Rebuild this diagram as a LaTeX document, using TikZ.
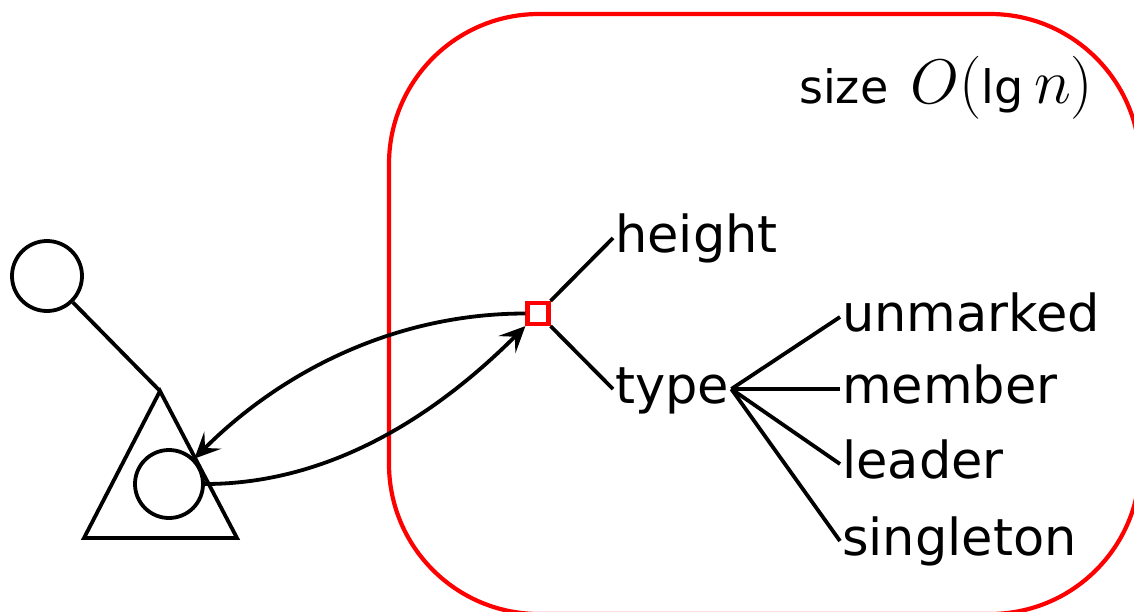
\RequirePackage{fix-cm}
\documentclass[tikz,border=0pt]{standalone}
\usepackage[no-math]{fontspec}
\setmainfont{DejaVu Sans}
\usetikzlibrary{arrows.meta}
\tikzset{
  blk/.style={line width=3.8pt, black},
  ring/.style={circle, draw, blk, inner sep=0pt},
  lbl/.style={font=\fontsize{51}{61}\selectfont, inner xsep=2pt, inner ysep=0pt,
              text height=28pt, text depth=0pt, anchor=west},
  arr/.style={blk, -{Stealth[length=26pt,width=24pt,inset=11pt]}},
}
\begin{document}
\begin{tikzpicture}[x=1pt,y=-1pt]
\useasboundingbox (0,0) rectangle (1134,611);
\clip (0,0) rectangle (1134,611);
% red region
\draw[red, line width=4.2pt, rounded corners=150pt] (389,14) rectangle (1140,614);
\node[anchor=base west, inner sep=0pt] (size) at (799,103)
  {\fontsize{46}{55}\selectfont size\hspace{22pt}\fontsize{63}{75}\selectfont$O(\mbox{\fontsize{46}{55}\selectfont lg}\,n)$};
% left tree
\node[ring, minimum size=70pt] (c1) at (47,276) {};
\coordinate (apex) at (160,391);
\coordinate (bl) at (84,538);
\coordinate (br) at (237,538);
\draw[blk] (c1) -- (apex);
\draw[blk] (apex) -- (bl) -- (br) -- cycle;
\node[ring, minimum size=68pt] (c2) at (169,484) {};
% record
\node[draw=red, line width=4.2pt, minimum size=21pt, inner sep=0pt] (sq) at (538,313.5) {};
\node[lbl] (height) at (613,238) {height};
\node[lbl] (type) at (613,389) {type};
\node[lbl] (unmarked) at (840,317) {unmarked};
\node[lbl] (member) at (840,389) {member};
\node[lbl] (leader) at (840,464) {leader};
\node[lbl] (singleton) at (840,541) {singleton};
\draw[blk] (sq.north east) -- (height.west);
\draw[blk] (sq.south east) -- (type.west);
\draw[blk] (type.east) -- (unmarked.west);
\draw[blk] (type.east) -- (member.west);
\draw[blk] (type.east) -- (leader.west);
\draw[blk] (type.east) -- (singleton.west);
% pointers
\draw[arr] (sq.west) to[out=180,in=45,looseness=0.9] (c2);
\draw[arr] (c2.east) to[out=0,in=225,looseness=0.9] (sq.south west);
\end{tikzpicture}
\end{document}
